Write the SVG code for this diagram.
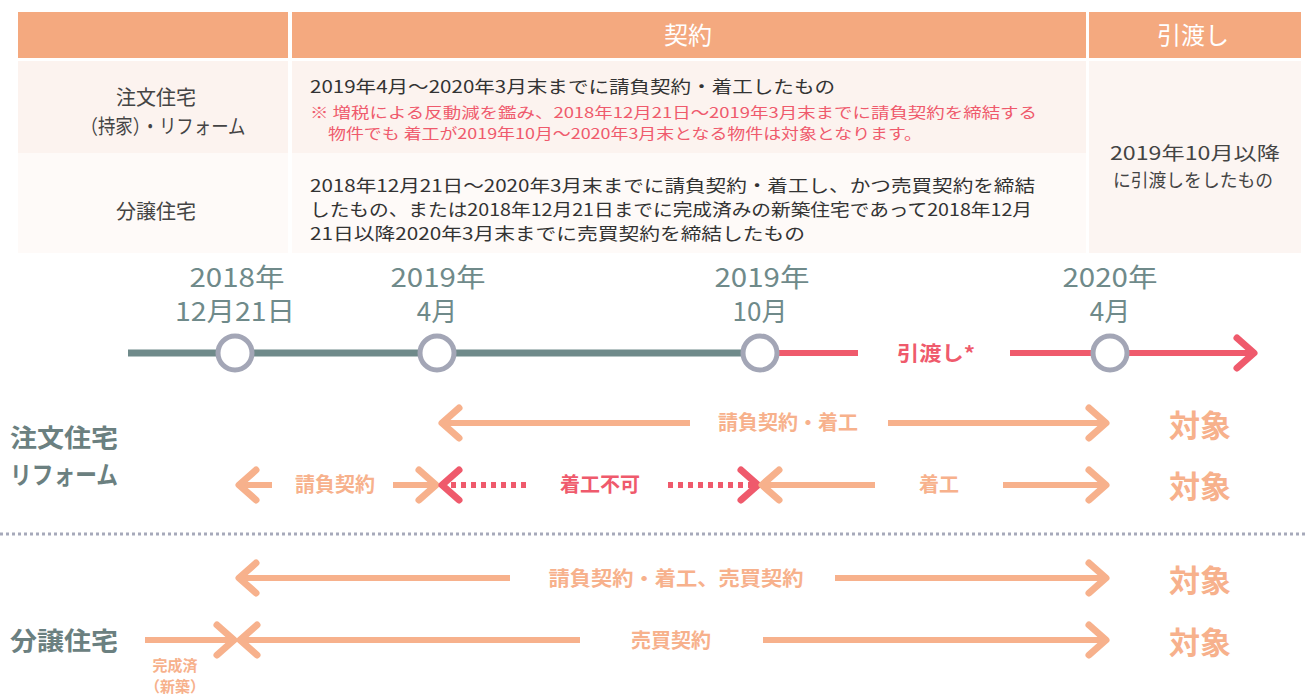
<svg xmlns="http://www.w3.org/2000/svg" width="1305" height="699" viewBox="0 0 1305 699">
<defs>
<style>
text{font-family:"Noto Sans CJK JP","Noto Sans",sans-serif}
.hd{fill:#fff;font-size:24px;text-anchor:middle}
.body{fill:#333;font-size:17.5px}
.note{fill:#EF5A6C;font-size:14.5px}
.side{fill:#444;font-size:20px;text-anchor:middle}
.date{fill:#6F8A8A;font-size:26px;text-anchor:middle}
.big{fill:#6B8080;font-size:25px;font-weight:bold}
.or{fill:#F7B18C;font-size:20px;font-weight:bold;text-anchor:middle}
.tg{fill:#F7B18C;font-size:31px;font-weight:bold;text-anchor:middle}
.rd{fill:#EF5A6C;font-size:20px;font-weight:bold;text-anchor:middle}
.ol{stroke:#F7B18C;stroke-width:6;fill:none}
.rl{stroke:#EF5A6C;stroke-width:6;fill:none}
.circ{fill:#fff;stroke:#A3A6B6;stroke-width:5}
</style>
<marker id="ao" markerUnits="userSpaceOnUse" viewBox="-30 -20 40 40" refX="0" refY="0" markerWidth="40" markerHeight="40" orient="auto-start-reverse" overflow="visible">
<path d="M-17,-15 L0,0 L-17,15" fill="none" stroke="#F7B18C" stroke-width="7" stroke-linecap="round" stroke-linejoin="round"/>
</marker>
<marker id="ar" markerUnits="userSpaceOnUse" viewBox="-30 -20 40 40" refX="0" refY="0" markerWidth="40" markerHeight="40" orient="auto-start-reverse" overflow="visible">
<path d="M-17,-15 L0,0 L-17,15" fill="none" stroke="#EF5A6C" stroke-width="7" stroke-linecap="round" stroke-linejoin="round"/>
</marker>
</defs>
<rect width="1305" height="699" fill="#fff"/>

<g id="table">
<rect x="18" y="12" width="270" height="46" fill="#F4A97F"/>
<rect x="292" y="12" width="794" height="46" fill="#F4A97F"/>
<rect x="1089" y="12" width="212" height="46" fill="#F4A97F"/>
<text class="hd" x="688" y="44">契約</text>
<text class="hd" x="1193" y="44">引渡し</text>
<rect x="18" y="61" width="270" height="92" fill="#FCF3EF"/>
<rect x="292" y="61" width="794" height="92" fill="#FCF3EF"/>
<rect x="18" y="153" width="270" height="100" fill="#FEFAF8"/>
<rect x="292" y="153" width="794" height="100" fill="#FEFAF8"/>
<rect x="1089" y="61" width="212" height="192" fill="#FCF5F2"/>
<text class="side" x="156" y="105">注文住宅</text>
<text class="side" x="163" y="134" textLength="165" lengthAdjust="spacingAndGlyphs">（持家）・リフォーム</text>
<text class="side" x="156" y="219">分譲住宅</text>
<text class="body" x="310" y="93" textLength="525" lengthAdjust="spacingAndGlyphs">2019年4月～2020年3月末までに請負契約・着工したもの</text>
<text class="note" x="310" y="118" textLength="727" lengthAdjust="spacingAndGlyphs">※ 増税による反動減を鑑み、2018年12月21日～2019年3月末までに請負契約を締結する</text>
<text class="note" x="328" y="139" textLength="594" lengthAdjust="spacingAndGlyphs">物件でも 着工が2019年10月～2020年3月末となる物件は対象となります。</text>
<text class="body" x="310" y="192" textLength="725" lengthAdjust="spacingAndGlyphs">2018年12月21日～2020年3月末までに請負契約・着工し、かつ売買契約を締結</text>
<text class="body" x="310" y="216" textLength="722" lengthAdjust="spacingAndGlyphs">したもの、または2018年12月21日までに完成済みの新築住宅であって2018年12月</text>
<text class="body" x="310" y="240" textLength="495" lengthAdjust="spacingAndGlyphs">21日以降2020年3月末までに売買契約を締結したもの</text>
<text class="side" x="1195" y="160" style="font-size:18.5px" textLength="170" lengthAdjust="spacingAndGlyphs">2019年10月以降</text>
<text class="side" x="1193" y="187" style="font-size:18.5px" textLength="160" lengthAdjust="spacingAndGlyphs">に引渡しをしたもの</text>
</g>

<g id="timeline">
<text class="date" x="237" y="287" textLength="95" lengthAdjust="spacingAndGlyphs">2018年</text>
<text class="date" x="235" y="321" textLength="120" lengthAdjust="spacingAndGlyphs">12月21日</text>
<text class="date" x="438" y="287" textLength="95" lengthAdjust="spacingAndGlyphs">2019年</text>
<text class="date" x="437" y="321">4月</text>
<text class="date" x="762" y="287" textLength="95" lengthAdjust="spacingAndGlyphs">2019年</text>
<text class="date" x="760" y="321">10月</text>
<text class="date" x="1110" y="287" textLength="95" lengthAdjust="spacingAndGlyphs">2020年</text>
<text class="date" x="1110" y="321">4月</text>
<line x1="128" y1="353" x2="760" y2="353" stroke="#6F8A8A" stroke-width="7"/>
<line x1="760" y1="353" x2="858" y2="353" class="rl" stroke-width="7"/>
<line x1="1010" y1="353" x2="1254" y2="353" class="rl" stroke-width="7" marker-end="url(#ar)"/>
<text class="rd" x="936" y="361" textLength="78" lengthAdjust="spacingAndGlyphs">引渡し*</text>
<circle class="circ" cx="235" cy="353" r="17"/>
<circle class="circ" cx="437" cy="353" r="17"/>
<circle class="circ" cx="760" cy="353" r="17"/>
<circle class="circ" cx="1110" cy="353" r="17"/>
</g>

<g id="section-order">
<text class="big" x="10" y="447" textLength="108" lengthAdjust="spacingAndGlyphs">注文住宅</text>
<text class="big" x="10" y="484" textLength="108" lengthAdjust="spacingAndGlyphs">リフォーム</text>
<text class="or" x="788" y="430" textLength="140" lengthAdjust="spacingAndGlyphs">請負契約・着工</text>
<text class="tg" x="1200" y="437">対象</text>
<text class="or" x="335" y="492">請負契約</text>
<text class="rd" x="600" y="492">着工不可</text>
<text class="or" x="939" y="492">着工</text>
<text class="tg" x="1200" y="498">対象</text>
</g>

<g id="separator">
<line x1="0" y1="534" x2="1305" y2="534" stroke="#A6A9BA" stroke-width="3" stroke-dasharray="3 3"/>
</g>

<g id="section-sale">
<text class="big" x="10" y="650" textLength="108" lengthAdjust="spacingAndGlyphs">分譲住宅</text>
<text class="or" x="676" y="586" textLength="255" lengthAdjust="spacingAndGlyphs">請負契約・着工、売買契約</text>
<text class="tg" x="1200" y="592">対象</text>
<text class="or" x="671" y="648">売買契約</text>
<text class="tg" x="1200" y="654">対象</text>
<text class="or" x="175" y="671" style="font-size:15px">完成済</text>
<text class="or" x="175" y="692" style="font-size:15px">（新築）</text>
</g>

<g id="connectors">
<line class="ol" x1="690" y1="423" x2="442" y2="423" marker-end="url(#ao)"/>
<line class="ol" x1="888" y1="423" x2="1106" y2="423" marker-end="url(#ao)"/>
<line class="ol" x1="272" y1="485" x2="239" y2="485" marker-end="url(#ao)"/>
<line class="ol" x1="393" y1="485" x2="436" y2="485" marker-end="url(#ao)"/>
<line class="rl" x1="526" y1="485" x2="442" y2="485" stroke-dasharray="5 5" marker-end="url(#ar)"/>
<line class="rl" x1="668" y1="485" x2="758" y2="485" stroke-dasharray="5 5" marker-end="url(#ar)"/>
<line class="ol" x1="875" y1="485" x2="762" y2="485" marker-end="url(#ao)"/>
<line class="ol" x1="1003" y1="485" x2="1106" y2="485" marker-end="url(#ao)"/>
<line class="ol" x1="510" y1="578" x2="239" y2="578" marker-end="url(#ao)"/>
<line class="ol" x1="835" y1="578" x2="1106" y2="578" marker-end="url(#ao)"/>
<line class="ol" x1="145" y1="640" x2="234" y2="640" marker-end="url(#ao)"/>
<line class="ol" x1="580" y1="640" x2="240" y2="640" marker-end="url(#ao)"/>
<line class="ol" x1="763" y1="640" x2="1106" y2="640" marker-end="url(#ao)"/>
</g>
</svg>
